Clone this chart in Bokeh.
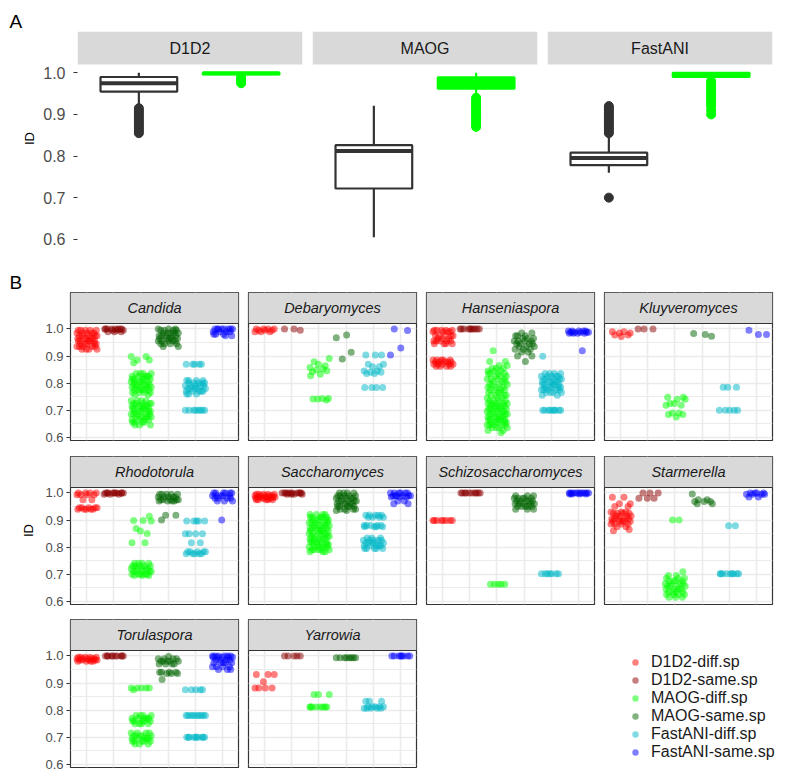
from bokeh.plotting import figure
from bokeh.models import Range1d, Span, FixedTicker, Legend, LegendItem, PrintfTickFormatter
from bokeh.layouts import column, row
from bokeh.embed import file_html
from bokeh.resources import INLINE
from bokeh.core.properties import value

FONT = "Liberation Sans"

# ---------------- Panel A data (box plot summaries) ----------------
METHODS = ["D1D2", "MAOG", "FastANI"]
A_GROUPS = ["diff.sp", "same.sp"]
A_LOWER = [[0.918, 0.993], [0.605, 0.945], [0.760, 0.985]]
A_Q1 = [[0.955, 0.996], [0.722, 0.962], [0.778, 0.990]]
A_MED = [[0.975, 0.999], [0.812, 0.978], [0.795, 0.997]]
A_Q3 = [[0.990, 1.000], [0.826, 0.989], [0.808, 1.000]]
A_UPPER = [[1.000, 1.000], [0.921, 1.000], [0.846, 1.000]]
A_OUTLIERS = [
    [[0.855, 0.86, 0.865, 0.87, 0.875, 0.88, 0.885, 0.89, 0.895, 0.9, 0.905, 0.91, 0.915],
     [0.975, 0.98, 0.985, 0.99]],
    [[],
     [0.87, 0.875, 0.88, 0.885, 0.89, 0.895, 0.9, 0.905, 0.91, 0.915, 0.92, 0.925, 0.93, 0.935, 0.94]],
    [[0.70, 0.855, 0.86, 0.865, 0.87, 0.875, 0.88, 0.885, 0.89, 0.895, 0.9, 0.905, 0.91, 0.915, 0.92],
     [0.90, 0.91, 0.92, 0.925, 0.93, 0.935, 0.94, 0.945, 0.95, 0.955, 0.96, 0.965, 0.97, 0.975, 0.98]],
]
A_LINE = ["#333333", "#00FF00"]
A_FILL = ["#FFFFFF", "#00FF00"]
PANEL_LABELS = ["A", "B"]

# ---------------- Panel B data ----------------
CATEGORIES = ["D1D2-diff.sp", "D1D2-same.sp", "MAOG-diff.sp", "MAOG-same.sp",
              "FastANI-diff.sp", "FastANI-same.sp"]
COLORS = ["#FF0000", "#8B0000", "#00FF00", "#006400", "#00B8C8", "#0000FF"]
GENERA = ["Candida", "Debaryomyces", "Hanseniaspora", "Kluyveromyces",
          "Rhodotorula", "Saccharomyces", "Schizosaccharomyces", "Starmerella",
          "Torulaspora", "Yarrowia"]

# each group: list of (ID value, number of points at that value)
CANDIDA = [
    [(0.995, 5), (0.985, 5), (0.975, 5), (0.965, 5), (0.955, 5), (0.945, 5), (0.935, 5), (0.925, 4)],
    [(1.0, 8), (0.995, 3), (0.99, 3)],
    [(0.898, 2), (0.885, 2), (0.875, 1), (0.835, 4), (0.825, 5), (0.815, 5), (0.805, 5), (0.795, 5),
     (0.785, 5), (0.775, 5), (0.765, 4), (0.757, 2), (0.735, 4), (0.725, 5), (0.715, 5),
     (0.705, 5), (0.695, 5), (0.685, 5), (0.675, 5), (0.665, 4), (0.655, 4), (0.645, 3)],
    [(1.0, 3), (0.995, 4), (0.985, 5), (0.975, 5), (0.965, 5), (0.955, 5), (0.945, 4), (0.935, 2)],
    [(0.87, 5), (0.81, 4), (0.8, 5), (0.79, 5), (0.78, 5), (0.77, 5), (0.76, 3), (0.70, 8)],
    [(1.0, 8), (0.99, 4), (0.98, 3), (0.975, 2)],
]
DEBARYOMYCES = [
    [(1.0, 4), (0.995, 3), (0.99, 3)],
    [(0.995, 1), (1.0, 2)],
    [(0.891, 1), (0.879, 1), (0.87, 1), (0.864, 1), (0.858, 1), (0.852, 1), (0.849, 1), (0.846, 1),
     (0.842, 1), (0.833, 1), (0.827, 1), (0.743, 2), (0.741, 2), (0.738, 1)],
    [(0.978, 1), (0.967, 1), (0.914, 1), (0.889, 1)],
    [(0.904, 3), (0.87, 2), (0.86, 2), (0.845, 2), (0.84, 2), (0.835, 2), (0.784, 4)],
    [(1.0, 1), (0.994, 1), (0.93, 1), (0.904, 1)],
]
HANSENIASPORA = [
    [(0.995, 5), (0.99, 4), (0.975, 5), (0.965, 3), (0.955, 5), (0.945, 4), (0.885, 5), (0.878, 5),
     (0.87, 5), (0.862, 4)],
    [(1.0, 10)],
    [(0.919, 1), (0.88, 2), (0.865, 2), (0.855, 3), (0.845, 3), (0.835, 4), (0.825, 3), (0.815, 4),
     (0.805, 3), (0.795, 4), (0.785, 3), (0.775, 4), (0.765, 3), (0.755, 4), (0.745, 3), (0.735, 4),
     (0.725, 5), (0.715, 5), (0.705, 5), (0.695, 5), (0.685, 5), (0.675, 5), (0.665, 5), (0.655, 5),
     (0.645, 5), (0.635, 4), (0.625, 2), (0.617, 1)],
    [(0.985, 2), (0.975, 3), (0.965, 3), (0.955, 4), (0.945, 4), (0.935, 3), (0.925, 3), (0.915, 2),
     (0.9, 2), (0.88, 1)],
    [(0.899, 1), (0.835, 4), (0.825, 5), (0.815, 5), (0.805, 5), (0.795, 5), (0.785, 5), (0.775, 5),
     (0.765, 4), (0.755, 2), (0.70, 9)],
    [(0.992, 5), (0.988, 5), (0.984, 4), (0.919, 1)],
]
KLUYVEROMYCES = [
    [(0.99, 2), (0.985, 2), (0.978, 2), (0.972, 1)],
    [(1.0, 3)],
    [(0.748, 2), (0.74, 2), (0.725, 2), (0.718, 2), (0.69, 2), (0.684, 2), (0.675, 1)],
    [(0.983, 1), (0.979, 1), (0.973, 1)],
    [(0.785, 3), (0.70, 5)],
    [(0.995, 1), (0.979, 2)],
]
RHODOTORULA = [
    [(1.0, 4), (0.993, 4), (0.975, 2), (0.945, 5), (0.94, 5)],
    [(1.0, 10), (0.995, 3)],
    [(0.914, 1), (0.898, 2), (0.896, 1), (0.869, 1), (0.859, 1), (0.85, 1), (0.816, 2), (0.74, 4),
     (0.73, 5), (0.72, 5), (0.71, 5), (0.70, 5), (0.695, 3)],
    [(0.995, 5), (0.985, 5), (0.975, 5), (0.97, 4), (0.918, 2), (0.9, 1)],
    [(0.896, 5), (0.849, 4), (0.816, 2), (0.783, 5), (0.775, 5)],
    [(1.0, 6), (0.99, 5), (0.98, 4), (0.97, 3), (0.9, 1)],
]
SACCHAROMYCES = [
    [(0.995, 5), (0.99, 5), (0.985, 5), (0.98, 5), (0.975, 5)],
    [(1.0, 10), (0.995, 4)],
    [(0.92, 4), (0.91, 5), (0.9, 5), (0.89, 5), (0.88, 5), (0.87, 5), (0.86, 5), (0.85, 5), (0.84, 5),
     (0.83, 5), (0.82, 5), (0.81, 5), (0.8, 5), (0.79, 5), (0.783, 3)],
    [(1.0, 4), (0.99, 5), (0.98, 5), (0.97, 5), (0.96, 5), (0.95, 5), (0.94, 4), (0.935, 2)],
    [(0.918, 5), (0.91, 4), (0.88, 5), (0.875, 4), (0.834, 3), (0.825, 5), (0.815, 5), (0.805, 5),
     (0.795, 5)],
    [(1.0, 6), (0.99, 6), (0.985, 3), (0.97, 2), (0.96, 2)],
]
SCHIZOSACCHAROMYCES = [
    [(0.898, 8)],
    [(1.0, 10)],
    [(0.663, 5)],
    [(0.99, 3), (0.98, 5), (0.97, 5), (0.96, 5), (0.95, 5), (0.94, 3)],
    [(0.702, 7)],
    [(1.0, 10), (0.996, 4)],
]
STARMERELLA = [
    [(0.984, 2), (0.96, 2), (0.95, 2), (0.93, 3), (0.925, 4), (0.915, 4), (0.905, 5), (0.895, 5),
     (0.885, 4), (0.875, 2), (0.865, 1), (0.86, 1)],
    [(1.0, 3), (0.98, 3)],
    [(0.9, 2), (0.709, 1), (0.695, 2), (0.685, 3), (0.675, 4), (0.665, 4), (0.655, 4), (0.645, 4),
     (0.635, 4), (0.625, 4), (0.615, 3)],
    [(0.996, 1), (0.975, 2), (0.968, 3), (0.96, 2)],
    [(0.879, 2), (0.702, 9)],
    [(1.0, 4), (0.995, 4), (0.985, 2)],
]
TORULASPORA = [
    [(0.995, 5), (0.99, 5), (0.985, 5), (0.98, 4)],
    [(1.0, 10)],
    [(0.882, 5), (0.875, 1), (0.78, 4), (0.77, 5), (0.76, 5), (0.75, 4), (0.715, 4), (0.705, 5),
     (0.695, 5), (0.685, 5), (0.675, 3)],
    [(0.998, 1), (0.99, 4), (0.98, 5), (0.97, 4), (0.94, 4), (0.935, 3), (0.913, 1)],
    [(0.875, 5), (0.78, 10), (0.70, 10)],
    [(1.0, 6), (0.995, 5), (0.985, 4), (0.975, 5), (0.96, 4), (0.95, 3)],
]
YARROWIA = [
    [(0.931, 3), (0.905, 1), (0.882, 4)],
    [(1.0, 5)],
    [(0.858, 3), (0.811, 8)],
    [(0.993, 8)],
    [(0.833, 3), (0.812, 5), (0.807, 5)],
    [(1.0, 8)],
]
GENUS_DATA = [CANDIDA, DEBARYOMYCES, HANSENIASPORA, KLUYVEROMYCES, RHODOTORULA,
              SACCHAROMYCES, SCHIZOSACCHAROMYCES, STARMERELLA, TORULASPORA, YARROWIA]

# fixed horizontal jitter offsets (category units), cycled
JITTER = [-0.31, 0.12, 0.35, -0.05, -0.22, 0.27, 0.02, -0.36, 0.19, -0.14, 0.31, -0.27,
          0.08, 0.38, -0.18, -0.02, 0.23, -0.33, 0.15, -0.09, 0.29, -0.24, 0.05]

TICKS = [0.6, 0.7, 0.8, 0.9, 1.0]
MINOR = [0.65, 0.75, 0.85, 0.95]


def style_yaxis(p, size, bounds, standoff, label=None, label_standoff=6):
    ax = p.yaxis[0]
    ax.ticker = FixedTicker(ticks=TICKS)
    ax.formatter = PrintfTickFormatter(format="%.1f")
    ax.bounds = bounds
    ax.axis_line_color = None
    ax.major_tick_line_color = "#333333"
    ax.major_tick_line_width = 1.2
    ax.major_tick_out = 4
    ax.major_tick_in = 0
    ax.minor_tick_line_color = None
    ax.major_label_text_font = FONT
    ax.major_label_text_font_size = size
    ax.major_label_text_color = "#4D4D4D"
    ax.major_label_standoff = standoff
    if label:
        ax.axis_label = label
        ax.axis_label_text_font = FONT
        ax.axis_label_text_font_size = "13px"
        ax.axis_label_text_font_style = "normal"
        ax.axis_label_text_color = "#000000"
        ax.axis_label_standoff = label_standoff


def panel_title(p, text, offset):
    p.title.text = text
    p.title.align = "left"
    p.title.offset = offset
    p.title.standoff = 0
    p.title.text_font = FONT
    p.title.text_font_size = "19px"
    p.title.text_font_style = "normal"
    p.title.text_color = "#000000"
    p.title.text_line_height = 1.0


# ---------------- Panel A ----------------
A_LO, A_HI = 0.585, 1.02
A_PANEL_H, A_STRIP_H = 181, 33
A_TOP = A_HI + A_STRIP_H * (A_HI - A_LO) / A_PANEL_H
BOX_W = 0.75

panel_a = []
for i, m in enumerate(METHODS):
    first = i == 0
    p = figure(frame_width=225, frame_height=A_PANEL_H + A_STRIP_H,
               min_border_left=77 if first else 5, min_border_right=5,
               min_border_top=31, min_border_bottom=20,
               x_range=Range1d(0.4, 2.6), y_range=Range1d(A_LO, A_TOP),
               output_backend="svg", toolbar_location=None)
    p.outline_line_color = None
    p.grid.visible = False
    p.xaxis.visible = False
    if first:
        style_yaxis(p, "16px", (A_LO, A_HI), 8, "ID", 3)
        panel_title(p, PANEL_LABELS[0], -68)
    else:
        p.yaxis.visible = False
    for g in range(2):
        x = g + 1
        col = A_LINE[g]
        p.segment(x0=[x], y0=[A_Q3[i][g]], x1=[x], y1=[A_UPPER[i][g]], line_color=col, line_width=2.2)
        p.segment(x0=[x], y0=[A_Q1[i][g]], x1=[x], y1=[A_LOWER[i][g]], line_color=col, line_width=2.2)
        outl = A_OUTLIERS[i][g]
        if outl:
            p.scatter(x=[x] * len(outl), y=outl, size=9, fill_color=col, line_color=col)
        p.vbar(x=[x], width=BOX_W, top=[A_Q3[i][g]], bottom=[A_Q1[i][g]],
               fill_color=A_FILL[g], line_color=col, line_width=2.2)
        p.segment(x0=[x - BOX_W / 2], y0=[A_MED[i][g]], x1=[x + BOX_W / 2], y1=[A_MED[i][g]],
                  line_color=col, line_width=4)
    p.quad(left=[0.4], right=[2.6], bottom=[A_HI], top=[A_TOP], fill_color="#D9D9D9", line_color=None)
    p.text(x=[1.5], y=[(A_HI + A_TOP) / 2], text=[m], text_align="center", text_baseline="middle",
           text_font=value(FONT), text_font_size="16px", text_color="#1A1A1A")
    panel_a.append(p)

# ---------------- Panel B ----------------
B_LO, B_HI = 0.588, 1.02
B_PANEL_H, B_STRIP_H = 117, 31
B_TOP = B_HI + B_STRIP_H * (B_HI - B_LO) / B_PANEL_H
ROW_TOP = [27, 2, 2]
ROW_BOTTOM = [14, 13, 8]


def facet(idx, r, c):
    first = c == 0
    p = figure(frame_width=168, frame_height=B_PANEL_H + B_STRIP_H,
               min_border_left=70 if first else 5, min_border_right=5,
               min_border_top=ROW_TOP[r], min_border_bottom=ROW_BOTTOM[r],
               x_range=Range1d(0.4, 6.6), y_range=Range1d(B_LO, B_TOP),
               output_backend="svg", toolbar_location=None)
    p.background_fill_color = "white"
    p.outline_line_color = "#333333"
    p.outline_line_width = 1.2
    p.xaxis.visible = False
    p.xgrid.ticker = FixedTicker(ticks=[1, 2, 3, 4, 5, 6])
    p.ygrid.ticker = FixedTicker(ticks=TICKS, minor_ticks=MINOR)
    p.grid.grid_line_color = "#EBEBEB"
    p.grid.grid_line_width = 1.6
    p.ygrid.minor_grid_line_color = "#EBEBEB"
    p.ygrid.minor_grid_line_width = 1.0
    if first:
        style_yaxis(p, "13px", (B_LO, B_HI), 3, "ID" if r == 1 else None, 6)
    else:
        p.yaxis.visible = False
    if idx == 0:
        panel_title(p, PANEL_LABELS[1], -61)
    k = 0
    for gi, group in enumerate(GENUS_DATA[idx]):
        xs, ys = [], []
        for yv, n in group:
            for _ in range(n):
                xs.append(gi + 1 + JITTER[k % len(JITTER)])
                ys.append(yv)
                k += 1
        p.scatter(x=xs, y=ys, size=7, fill_color=COLORS[gi], line_color=None, fill_alpha=0.5)
    p.quad(left=[0.4], right=[6.6], bottom=[B_HI], top=[B_TOP], fill_color="#D9D9D9", line_color=None)
    p.add_layout(Span(location=B_HI, dimension="width", line_color="#333333", line_width=1.2))
    p.text(x=[3.5], y=[(B_HI + B_TOP) / 2], text=[GENERA[idx]], text_align="center",
           text_baseline="middle", text_font=value(FONT), text_font_size="14.5px",
           text_font_style="italic", text_color="#1A1A1A")
    return p


rows_b = []
idx = 0
for r in range(3):
    figs = []
    for c in range(4):
        if idx < len(GENERA):
            figs.append(facet(idx, r, c))
            idx += 1
    if r == 2:
        lp = figure(frame_width=356, frame_height=B_PANEL_H + B_STRIP_H,
                    min_border_left=0, min_border_right=0, min_border_top=ROW_TOP[r],
                    min_border_bottom=ROW_BOTTOM[r],
                    x_range=Range1d(0, 1), y_range=Range1d(0, 1),
                    output_backend="svg", toolbar_location=None)
        lp.axis.visible = False
        lp.grid.visible = False
        lp.outline_line_color = None
        items = []
        for cat, colr in zip(CATEGORIES, COLORS):
            # legend key proxy, kept outside the visible range
            rr = lp.scatter(x=[5], y=[5], size=7, fill_color=colr, line_color=None, fill_alpha=0.5)
            items.append(LegendItem(label=cat, renderers=[rr]))
        leg = Legend(items=items, location=(205, 6), orientation="vertical",
                     glyph_width=18, glyph_height=16, label_height=16, label_standoff=7,
                     spacing=0, padding=0, margin=0,
                     label_text_font=FONT, label_text_font_size="16px", label_text_color="#1A1A1A",
                     label_text_line_height=1.0,
                     border_line_color=None, background_fill_alpha=0)
        lp.add_layout(leg)
        figs.append(lp)
    rows_b.append(row(*figs))

layout = column(row(*panel_a), *rows_b)

open("out.html", "w").write(file_html(layout, INLINE))
